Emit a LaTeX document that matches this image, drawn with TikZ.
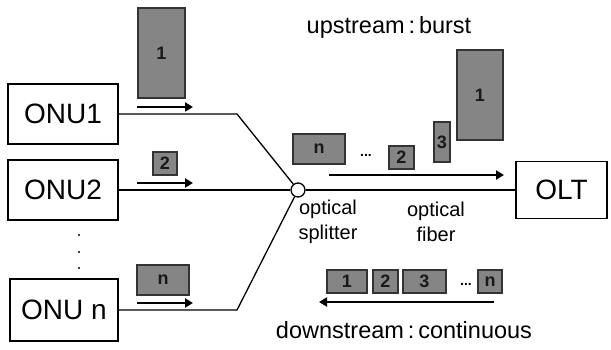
\documentclass[tikz,border=0pt]{standalone}
\usepackage{fontspec}
\setmainfont{Liberation Sans}
\usetikzlibrary{arrows.meta}
\begin{document}
\begin{tikzpicture}[x=1pt,y=-1pt,
  box/.style={draw, line width=1.8pt, inner sep=0pt, font=\fontsize{28}{30}\selectfont},
  pkt/.style={draw=black!80, line width=1.1pt, fill=black!48, inner sep=0pt, font=\fontsize{18}{18}\selectfont\bfseries, text=black!90},
  conn/.style={line width=1.3pt},
  flow/.style={line width=2.4pt, -{Triangle[length=8pt,width=9pt]}},
  lbl/.style={font=\fontsize{20}{25}\selectfont, align=center},
  big/.style={font=\fontsize{23.5}{26}\selectfont},
  dotsl/.style={font=\fontsize{14}{14}\selectfont\bfseries, inner sep=0pt},
]
\useasboundingbox (0,0) rectangle (611,350);

% end systems
\node[box, minimum width=110pt, minimum height=60pt] (onu1) at (63,114) {ONU1};
\node[box, minimum width=110pt, minimum height=60pt] (onu2) at (63,190) {ONU2};
\node[box, minimum width=108pt, minimum height=62pt] (onun) at (64,310) {ONU n};
\node[box, minimum width=91pt, minimum height=57pt] (olt) at (561.5,190) {OLT};
\node[circle, draw, line width=1.3pt, fill=white, minimum size=14pt, inner sep=0pt] (spl) at (298,190) {};

% vertical dots
\fill (79,235) circle (1.1pt) (79,252) circle (1.1pt) (79,268) circle (1.1pt);

% fibres
\coordinate (b1) at (237,114);
\coordinate (bn) at (237,310);
\draw[conn] (onu1.east) -- (b1) -- (spl);
\draw[conn] (onu2) -- (spl);
\draw[conn] (onun.east) -- (bn) -- (spl);
\draw[conn] (spl) -- (olt);

% flow arrows
\coordinate (a1s) at (137,107); \coordinate (a1e) at (193,107);
\coordinate (a2s) at (137,183); \coordinate (a2e) at (193,183);
\coordinate (ans) at (137,303); \coordinate (ane) at (193,303);
\coordinate (fus) at (329,175); \coordinate (fue) at (504,175);
\coordinate (fds) at (494,302); \coordinate (fde) at (319,302);
\draw[flow] (a1s) -- (a1e);
\draw[flow] (a2s) -- (a2e);
\draw[flow] (ans) -- (ane);
\draw[flow] (fus) -- (fue);
\draw[flow] (fds) -- (fde);

% packets at ONUs
\node[pkt, minimum width=47pt, minimum height=90pt] (p1) at (161.5,53) {1};
\node[pkt, minimum width=24pt, minimum height=23pt] (p2) at (165,163.5) {2};
\node[pkt, minimum width=52pt, minimum height=30pt] (pn) at (163,280) {n};

% upstream packets on fibre
\node[pkt, minimum width=52pt, minimum height=30pt] (un) at (319,149) {n};
\node[dotsl] (ud) at (366,155) {...};
\node[pkt, minimum width=25pt, minimum height=23pt] (u2) at (401.5,157.5) {2};
\node[pkt, minimum width=16pt, minimum height=40pt] (u3) at (442,142) {3};
\node[pkt, minimum width=46pt, minimum height=90pt] (u1) at (480,95) {1};

% downstream packets
\node[pkt, minimum width=40pt, minimum height=23pt] (d1) at (347,281.5) {1};
\node[pkt, minimum width=25pt, minimum height=23pt] (d2) at (385.5,281.5) {2};
\node[pkt, minimum width=43pt, minimum height=23pt] (d3) at (424.5,281.5) {3};
\node[dotsl] (dd) at (466,284) {...};
\node[pkt, minimum width=24pt, minimum height=23pt] (dn) at (490,281.5) {n};

% labels
\node[big] (up) at (389,27) {upstream\,:\,burst};
\node[big] (down) at (404,330) {downstream\,:\,continuous};
\node[lbl] (splab) at (328,222) {optical\\splitter};
\node[lbl] (fiblab) at (436,222) {optical\\fiber};
\end{tikzpicture}
\end{document}
